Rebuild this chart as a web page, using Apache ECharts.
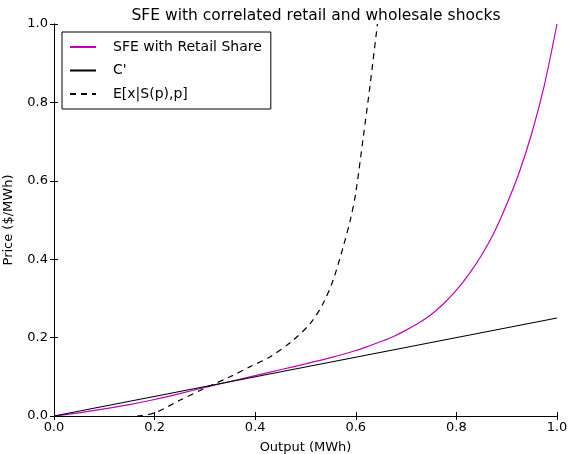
<!DOCTYPE html>
<html>
<head>
<meta charset="utf-8">
<script src="https://cdn.jsdelivr.net/npm/echarts@6/dist/echarts.min.js"></script>
<style>
  html, body { margin: 0; padding: 0; background: #fff; }
  #chart { width: 571px; height: 454px; }
</style>
</head>
<body>
<div id="chart"></div>
<script>
// Supply-function equilibrium curve
const sfeX = [0, 0.05, 0.1, 0.15, 0.2, 0.25, 0.3, 0.35, 0.4, 0.45, 0.5, 0.55, 0.6, 0.625, 0.65, 0.675, 0.7, 0.725, 0.75, 0.775, 0.8, 0.825, 0.85, 0.875, 0.9, 0.925, 0.95, 0.975, 1.0];
const sfeY = [0, 0.008, 0.018, 0.029, 0.042, 0.057, 0.073, 0.088, 0.103, 0.118, 0.133, 0.149, 0.167, 0.178, 0.19, 0.203, 0.219, 0.237, 0.259, 0.287, 0.321, 0.362, 0.41, 0.468, 0.54, 0.622, 0.722, 0.845, 1.0];

// Marginal cost
const costX = [0, 1];
const costY = [0, 0.25];

// Expected shock given supply and price
const expX = [0.165, 0.2, 0.25, 0.3, 0.35, 0.39, 0.43, 0.475, 0.51, 0.535, 0.555, 0.575, 0.59, 0.6, 0.615, 0.628, 0.643];
const expY = [0, 0.008, 0.04, 0.071, 0.1, 0.126, 0.151, 0.193, 0.237, 0.287, 0.347, 0.432, 0.505, 0.57, 0.713, 0.84, 1.0];

const tickLabels = ['0.0', '0.2', '0.4', '0.6', '0.8', '1.0'];

const zip = (xs, ys) => xs.map((x, i) => [x, ys[i]]);
const FONT = 'DejaVu Sans';

const labelFmt = v => tickLabels[Math.round(v / 0.2)];

const baseAxis = {
  type: 'value', min: 0, max: 1, interval: 0.2,
  axisLine: { show: true, lineStyle: { color: '#000', width: 1 } },
  axisTick: { show: true, inside: true, length: 4, lineStyle: { color: '#000' } },
  splitLine: { show: false }
};

const chart = echarts.init(document.getElementById('chart'), null, { renderer: 'canvas' });
chart.setOption({
  animation: false,
  backgroundColor: '#fff',
  title: {
    text: 'SFE with correlated retail and wholesale shocks',
    left: 311, top: 3, textAlign: 'center',
    textStyle: { fontFamily: FONT, fontSize: 15.5, fontWeight: 'normal', color: '#000' }
  },
  grid: { left: 54, right: 14, top: 24, bottom: 38, containLabel: false, outerBoundsMode: 'none' },
  legend: {
    orient: 'vertical', left: 62, top: 32,
    itemWidth: 26, itemHeight: 10, itemGap: 9.5,
    padding: [8, 9, 8, 7],
    borderColor: '#000', borderWidth: 1, borderRadius: 0,
    backgroundColor: '#fff',
    itemStyle: { opacity: 0 },
    textStyle: { fontFamily: FONT, fontSize: 14, color: '#000', padding: [0, 0, 0, 12] },
    data: ['SFE with Retail Share', "C'", 'E[x|S(p),p]']
  },
  xAxis: [
    Object.assign({}, baseAxis, {
      position: 'bottom',
      name: 'Output (MWh)', nameLocation: 'middle', nameGap: 25,
      nameTextStyle: { fontFamily: FONT, fontSize: 13, color: '#000' },
      axisLabel: { fontFamily: FONT, fontSize: 13, color: '#000', margin: 5, formatter: labelFmt }
    }),
    Object.assign({}, baseAxis, { position: 'top', axisLabel: { show: false } })
  ],
  yAxis: [
    Object.assign({}, baseAxis, {
      position: 'left',
      name: 'Price ($/MWh)', nameLocation: 'middle', nameGap: 39, nameMoveOverlap: false,
      nameTextStyle: { fontFamily: FONT, fontSize: 13, color: '#000' },
      axisLabel: { fontFamily: FONT, fontSize: 13, color: '#000', margin: 6, formatter: labelFmt }
    }),
    Object.assign({}, baseAxis, { position: 'right', axisLabel: { show: false } })
  ],
  series: [
    {
      name: 'SFE with Retail Share', type: 'line', smooth: 0.3,
      data: zip(sfeX, sfeY), showSymbol: false, symbol: 'none',
      lineStyle: { color: '#bf00bf', width: 1.2 }, itemStyle: { color: '#bf00bf' }
    },
    {
      name: "C'", type: 'line',
      data: zip(costX, costY), showSymbol: false, symbol: 'none',
      lineStyle: { color: '#000', width: 1.2 }, itemStyle: { color: '#000' }
    },
    {
      name: 'E[x|S(p),p]', type: 'line', smooth: 0.3,
      data: zip(expX, expY), showSymbol: false, symbol: 'none',
      lineStyle: { color: '#000', width: 1.2, type: [6, 5] }, itemStyle: { color: '#000' }
    }
  ]
});
</script>
</body>
</html>
